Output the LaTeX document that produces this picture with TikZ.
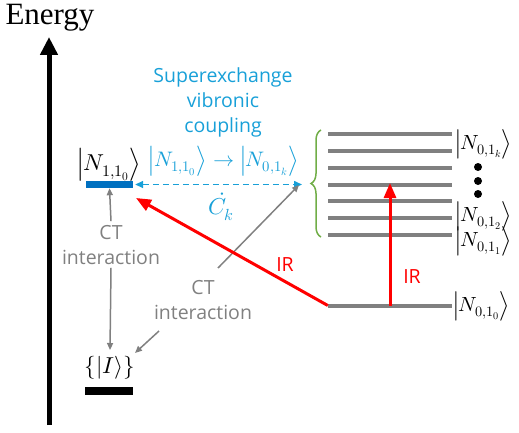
\documentclass[tikz,border=0pt]{standalone}
\usepackage{fontspec}
\usepackage{unicode-math}
\setmathfont{Latin Modern Math}
\setsansfont{Open Sans}
\newfontfamily\timesfont{Liberation Serif}
\usepackage{tikz}
\usetikzlibrary{positioning, arrows.meta, decorations.pathreplacing}
\definecolor{levelblue}{RGB}{0,112,192}
\definecolor{textblue}{RGB}{24,160,216}
\definecolor{levelgray}{RGB}{128,128,128}
\definecolor{bracegreen}{RGB}{112,173,71}
\tikzset{x=1pt, y=1pt,
         level/.style={fill=levelgray, inner sep=0, minimum width=124pt, minimum height=4pt},
         lbl/.style={font=\fontsize{23}{26}\selectfont, inner sep=0},
         rlbl/.style={font=\fontsize{20.5}{24}\selectfont, inner sep=0},
         txt/.style={font=\sffamily\fontsize{19.5}{25}\selectfont, align=center, inner sep=0},
         ct/.style={-{Triangle[length=7pt, width=6pt]}, levelgray, line width=1.5pt},
         ir/.style={-{Triangle[length=15pt, width=12pt]}, red, line width=3pt},
         }

\begin{document}
\begin{tikzpicture}
    \useasboundingbox (0,0) rectangle (519,432);
    % energy axis
    \node[font=\timesfont\fontsize{31}{31}\selectfont, inner sep=0] (energy) at (50,414) {Energy};
    \coordinate (axbot) at (49,7);
    \coordinate (axtop) at (49,395);
    \draw[-{Triangle[length=18pt, width=17pt]}, line width=5pt] (axbot) -- (axtop);

    % left states
    \node[fill=levelblue, inner sep=0, minimum width=47pt, minimum height=7pt] (n110) at (109.5,247.5) {};
    \node[fill=black, inner sep=0, minimum width=48pt, minimum height=8pt] (ist) at (109,41) {};
    \node[lbl] (n110l) at (109.5,267) {$\left|N_{1,1_0}\right\rangle$};
    \node[lbl] (istl) at (110,64) {$\{|I\rangle\}$};

    % right manifold
    \foreach \y/\n in {298/7, 281/6, 264/5, 247/4, 231/3, 214/2, 197/1}
        \node[level] (v\n) at (390,\y) {};
    \node[level] (v0) at (390,126.5) {};
    \node[rlbl] (k) at (484,288) {$\left|N_{0,1_k}\right\rangle$};
    \node[rlbl] (two) at (484,216) {$\left|N_{0,1_2}\right\rangle$};
    \node[rlbl] (one) at (484,191) {$\left|N_{0,1_1}\right\rangle$};
    \node[rlbl] (zero) at (482,126) {$\left|N_{0,1_0}\right\rangle$};
    \foreach \y in {265,251,238}
        \fill (478,\y) circle (4pt);
    \draw[bracegreen, line width=1.5pt, decorate, decoration={brace, amplitude=10pt}]
        (321,195) -- (321,302);

    % superexchange coupling
    \node[txt, textblue] (sup) at (223,330) {Superexchange\\vibronic\\coupling};
    \node[lbl, textblue, font=\fontsize{21}{24}\selectfont] (map) at (224,271) {$\left|N_{1,1_0}\right\rangle \rightarrow \left|N_{0,1_k}\right\rangle$};
    \node[lbl, textblue] (ck) at (221,225) {$\dot{C}_k$};
    \draw[{Triangle[length=8pt, width=7pt]}-{Triangle[length=8pt, width=7pt]}, textblue, line width=1.5pt, dashed, dash pattern=on 6pt off 4pt]
        (n110.east) ++(2,0) -- (302,247.5);

    % CT interactions
    \node[txt, levelgray] (ct1) at (111,187) {CT\\interaction};
    \node[txt, levelgray] (ct2) at (203,132) {CT\\interaction};
    \draw[ct] (ct1.north) ++(0,4) -- (n110.south);
    \draw[ct] (ct1.south) ++(0,-3) -- (110,82);
    \draw[ct] (218,164) -- (299,247);
    \draw[ct] (159,101) -- (135,79);

    % IR excitations
    \draw[ir] (v0.west) -- (136,234);
    \draw[ir] (390,126.5) -- (390,249);
    \node[txt, red] (ir1) at (285,167) {IR};
    \node[txt, red] (ir2) at (412,155) {IR};
\end{tikzpicture}
\end{document}
